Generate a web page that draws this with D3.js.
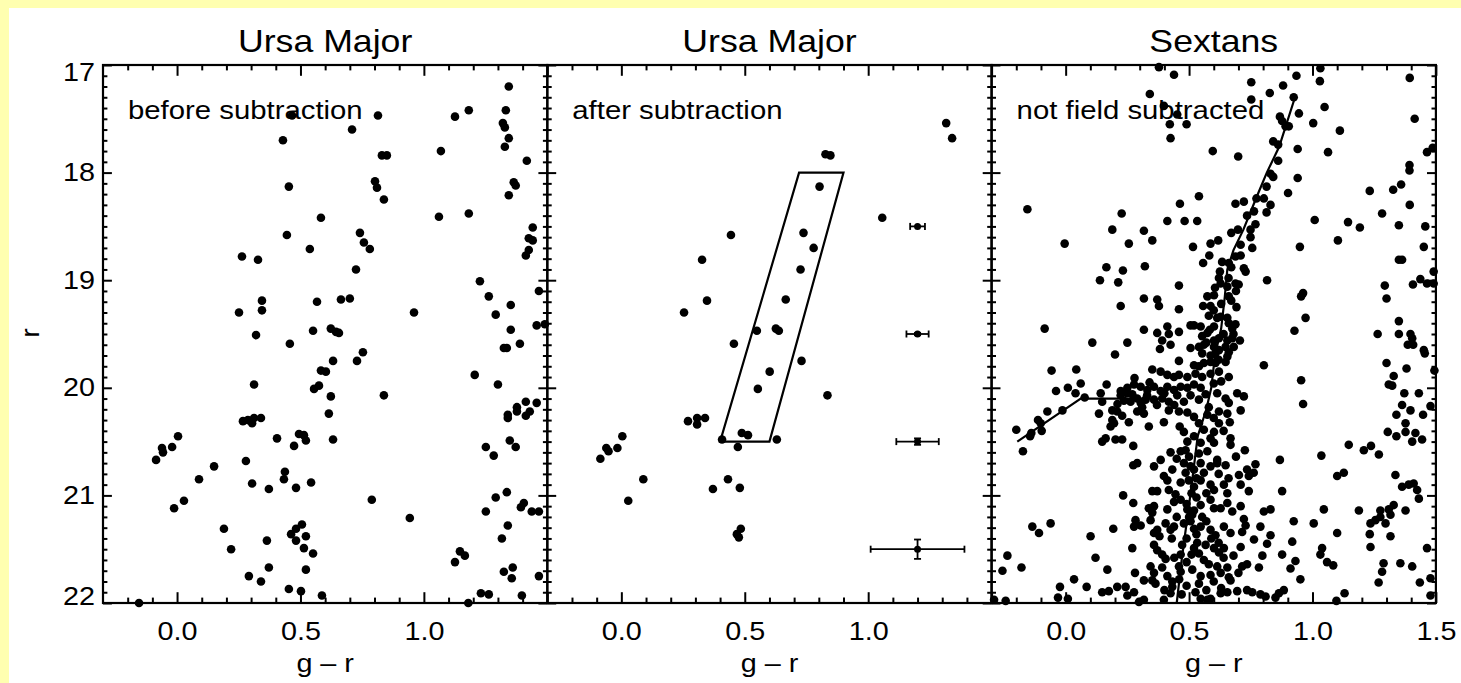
<!DOCTYPE html>
<html><head><meta charset="utf-8">
<script src="https://cdn.jsdelivr.net/npm/d3@7"></script>
<style>html,body{margin:0;padding:0;background:#ffffb0;}svg{display:block;}</style>
</head><body>
<svg id="c" width="1461" height="683"></svg>
<script>
// ---------------- data ----------------
const panelTitles = ["Ursa Major", "Ursa Major", "Sextans"];
const panelNotes = ["before subtraction", "after subtraction", "not field subtracted"];
const colourRange = [-0.3, 1.5];
const magRange = [17, 22];
const xMajorTicks = [0.0, 0.5, 1.0, 1.5];
const xMinorTicks = [-0.2, -0.1, 0.1, 0.2, 0.3, 0.4, 0.6, 0.7, 0.8, 0.9, 1.1, 1.2, 1.3, 1.4];
const xTickLabels = [[0.0, 0.5, 1.0], [0.0, 0.5, 1.0], [0.0, 0.5, 1.0, 1.5]];
const yMajorTicks = [17, 18, 19, 20, 21, 22];
const xAxisTitle = "g \u2013 r";
const yAxisTitle = "r";

const beforeStars = [
[1.344,17.20],[0.466,17.47],[0.814,17.47],[1.126,17.48],[1.182,17.42],[1.332,17.42],[1.320,17.54],[1.328,17.58],
[0.709,17.60],[0.429,17.70],[1.344,17.68],[1.328,17.76],[1.069,17.80],[0.830,17.84],[0.850,17.84],[1.417,17.89],
[0.453,18.13],[0.810,18.14],[0.802,18.08],[1.364,18.09],[1.372,18.12],[1.344,18.21],[0.838,18.25],[0.583,18.42],
[1.061,18.41],[1.182,18.38],[1.441,18.51],[1.425,18.61],[1.441,18.63],[1.425,18.72],[1.413,18.77],[0.445,18.58],
[0.741,18.56],[0.757,18.65],[0.781,18.71],[0.538,18.71],[0.263,18.78],[0.328,18.81],[0.725,18.90],[1.227,19.01],
[1.466,19.10],[1.263,19.15],[1.352,19.23],[0.344,19.19],[0.344,19.28],[0.567,19.20],[0.664,19.18],[0.700,19.17],
[0.251,19.30],[0.960,19.30],[1.291,19.32],[1.457,19.42],[1.490,19.41],[0.551,19.47],[0.623,19.45],[0.644,19.48],
[0.656,19.49],[1.352,19.46],[0.320,19.51],[0.457,19.59],[1.324,19.63],[1.336,19.63],[1.389,19.59],[0.753,19.67],
[0.729,19.75],[0.632,19.75],[0.583,19.84],[0.603,19.85],[1.206,19.88],[0.312,19.97],[0.555,20.01],[0.575,19.98],
[0.623,20.08],[0.838,20.07],[1.300,19.97],[1.413,20.13],[1.457,20.14],[1.377,20.18],[1.377,20.22],[1.340,20.25],
[1.340,20.28],[1.429,20.22],[1.413,20.26],[0.615,20.24],[0.267,20.31],[0.287,20.30],[0.304,20.33],[0.312,20.28],
[0.340,20.28],[0.004,20.45],[0.405,20.47],[0.494,20.43],[0.514,20.44],[0.522,20.49],[0.632,20.48],[1.348,20.49],
[-0.061,20.56],[-0.020,20.55],[0.474,20.54],[1.251,20.55],[1.372,20.55],[-0.085,20.67],[-0.057,20.60],[0.150,20.73],
[0.089,20.85],[0.279,20.68],[0.304,20.89],[0.372,20.94],[0.437,20.78],[0.433,20.85],[0.482,20.93],[0.543,20.88],
[1.283,20.63],[-0.012,21.12],[0.028,21.05],[0.789,21.04],[1.291,21.02],[1.336,20.97],[1.251,21.15],[1.393,21.11],
[1.405,21.07],[1.437,21.15],[1.466,21.15],[0.943,21.21],[0.190,21.31],[0.219,21.50],[0.364,21.42],[0.506,21.27],
[0.482,21.31],[0.462,21.36],[0.482,21.42],[0.522,21.38],[0.514,21.49],[0.551,21.54],[1.340,21.28],[1.316,21.40],
[1.146,21.52],[1.166,21.56],[1.126,21.62],[0.372,21.67],[0.522,21.69],[0.291,21.75],[0.340,21.80],[1.324,21.71],
[1.360,21.67],[1.356,21.77],[1.466,21.75],[0.453,21.87],[0.502,21.89],[0.587,21.93],[1.231,21.91],[1.263,21.92],
[1.397,21.93],[-0.154,22.0],[1.18,22.0]
];

const afterStars = [
[1.316,17.54],[1.340,17.68],[0.827,17.83],[0.847,17.84],[0.803,18.13],[1.057,18.42],[0.444,18.58],[0.738,18.56],
[0.779,18.70],[0.327,18.81],[0.726,18.90],[0.666,19.18],[0.347,19.19],[0.254,19.30],[0.549,19.47],[0.626,19.45],
[0.638,19.47],[0.456,19.59],[0.730,19.75],[0.601,19.85],[0.553,20.01],[0.835,20.07],[0.270,20.31],[0.307,20.34],
[0.307,20.28],[0.339,20.28],[0.004,20.45],[-0.061,20.56],[-0.052,20.59],[-0.016,20.56],[-0.085,20.66],[0.408,20.48],
[0.488,20.42],[0.513,20.44],[0.630,20.48],[0.472,20.55],[0.089,20.85],[0.028,21.05],[0.432,20.85],[0.371,20.94],
[0.480,20.93],[0.484,21.31],[0.468,21.36],[0.476,21.39]
];

// member-selection box (g-r, r)
const selectionBox = [[0.40,20.5],[0.60,20.5],[0.90,18.0],[0.72,18.0]];
// photometric error bars
const errorMags = [18.5, 19.5, 20.5, 21.5];
const errorColour = 1.2;
const errorColourSigma = [0.03, 0.045, 0.086, 0.19];
const errorMagSigma = [0.0, 0.01, 0.03, 0.09];

const sextansStars = [
[0.378,17.02],[0.439,17.09],[1.032,17.03],[0.935,17.10],[1.394,17.12],[0.752,17.16],[0.881,17.19],[1.030,17.15],
[0.827,17.26],[0.341,17.27],[0.752,17.32],[0.924,17.30],[1.049,17.39],[0.398,17.38],[0.452,17.46],[0.422,17.55],
[0.490,17.55],[0.868,17.48],[0.877,17.52],[0.891,17.57],[0.904,17.57],[0.945,17.45],[1.003,17.54],[1.414,17.50],
[0.425,17.68],[1.111,17.61],[0.841,17.71],[0.861,17.74],[0.940,17.78],[0.596,17.80],[0.699,17.85],[1.063,17.81],
[1.464,17.81],[1.487,17.77],[0.861,17.89],[1.393,17.93],[1.393,17.98],[0.830,18.01],[0.841,18.04],[0.940,18.05],
[0.814,18.13],[0.901,18.19],[1.232,18.17],[1.327,18.16],[1.359,18.11],[-0.155,18.34],[0.463,18.29],[0.540,18.22],
[0.688,18.29],[0.722,18.27],[0.773,18.24],[0.803,18.24],[0.814,18.37],[0.830,18.30],[1.394,18.30],[0.227,18.38],
[1.282,18.38],[0.735,18.40],[0.763,18.36],[0.412,18.45],[0.482,18.45],[0.533,18.45],[1.009,18.44],[1.144,18.46],
[1.192,18.51],[1.350,18.49],[1.457,18.50],[0.189,18.53],[0.317,18.54],[0.671,18.56],[0.698,18.53],[0.749,18.53],
[0.769,18.48],[0.749,18.60],[-0.004,18.66],[0.256,18.66],[0.351,18.63],[0.516,18.69],[0.587,18.66],[0.618,18.63],
[0.709,18.67],[0.756,18.70],[0.949,18.69],[1.103,18.63],[1.451,18.69],
[0.709,18.77],[0.688,18.78],[0.582,18.77],[0.557,18.84],[0.321,18.87],[0.165,18.88],[0.232,18.91],[0.634,18.83],
[0.661,18.84],[0.671,18.88],[0.722,18.89],[0.729,18.92],[0.625,18.92],[0.621,18.98],[0.628,19.03],[0.139,19.00],
[0.213,19.02],[0.816,19.00],[1.293,19.05],[1.407,19.04],[1.437,18.99],[1.464,19.03],[1.491,19.03],[1.491,18.92],
[1.350,18.81],[1.363,18.81],[0.459,19.05],[0.688,19.03],[0.701,19.04],[0.655,19.06],[0.605,19.07],[0.962,19.12],
[0.954,19.15],[0.574,19.15],[0.601,19.14],[0.661,19.15],[0.671,19.19],[0.317,19.17],[0.371,19.18],[0.378,19.24],
[1.300,19.17],[0.557,19.24],[0.587,19.24],[0.223,19.24],[0.459,19.27],[0.692,19.25],[0.580,19.33],[0.614,19.35],
[0.628,19.34],[0.972,19.35],[0.655,19.35],[0.661,19.40],[0.688,19.41],[0.675,19.45],[1.350,19.38],[0.506,19.42],
[0.520,19.42],[0.547,19.43],[0.584,19.46],[0.601,19.43],[-0.085,19.45],[0.317,19.46],[0.412,19.43],[0.418,19.50],
[0.371,19.49],[0.459,19.48],[0.927,19.47],[1.264,19.50],[1.350,19.50],[1.397,19.50],[1.404,19.54],[1.386,19.60],
[1.408,19.60],[0.553,19.52],[0.574,19.49],[0.601,19.56],[0.621,19.54],[0.655,19.56],[0.675,19.54],[0.706,19.56],
[0.391,19.56],[0.108,19.58],[0.250,19.58],[0.425,19.60],[0.506,19.63],[0.540,19.62],[0.560,19.60],[0.601,19.62],
[0.621,19.65],[0.648,19.62],[0.661,19.67],[0.681,19.62],[0.382,19.64],[0.200,19.69],[0.553,19.68],[0.587,19.70],
[0.607,19.68],[1.451,19.65],[1.455,19.68],[0.655,19.71],[0.648,19.76],[0.459,19.75],[0.520,19.79],[0.540,19.80],
[0.560,19.77],[0.587,19.76],[0.607,19.77],[0.803,19.79],[1.300,19.77],[1.381,19.82],[1.494,19.84],[-0.057,19.84],
[0.043,19.83],[0.351,19.83],[0.385,19.85],[0.412,19.88],[0.439,19.90],[0.459,19.88],[0.493,19.90],[0.526,19.87],
[0.553,19.90],[0.587,19.87],[0.621,19.85],[0.661,19.90],[0.279,19.91],[1.329,19.89],[0.954,19.93],[0.009,20.00],
[0.061,19.96],[0.040,20.05],[-0.039,20.03],[0.166,19.97],[0.223,20.03],[0.250,20.00],[0.277,19.97],[0.304,19.99],
[0.331,20.02],[0.358,19.99],[0.385,20.03],[0.412,19.99],[0.439,20.02],[0.466,19.99],[0.493,20.00],[0.520,19.97],
[0.547,20.00],[1.309,19.97],[1.323,19.98],[1.372,20.05],[1.431,20.05],[1.478,20.17],[0.077,20.09],[0.142,20.05],
[0.148,20.13],[0.223,20.07],[0.236,20.12],[0.250,20.05],[0.263,20.13],[0.290,20.10],[0.304,20.14],[0.324,20.11],
[0.358,20.11],[0.391,20.10],[0.418,20.13],[0.452,20.07],[0.479,20.13],[0.506,20.07],[0.540,20.11],[0.567,20.06],
[0.614,20.05],[0.648,20.10],[0.661,20.14],[0.695,20.05],[0.722,20.08],[0.962,20.15],[1.363,20.16],[-0.013,20.21],
[-0.074,20.22],[0.135,20.24],[0.189,20.21],[0.209,20.22],[0.229,20.26],[0.290,20.22],[0.317,20.24],[0.418,20.21],
[0.459,20.22],[0.493,20.23],[0.520,20.27],[0.574,20.25],[0.621,20.22],[0.655,20.24],[0.709,20.21],[1.397,20.21],
[1.448,20.25],[-0.112,20.30],[-0.101,20.33],[0.189,20.30],[0.196,20.33],[0.182,20.36],[0.256,20.32],[0.337,20.36],
[0.398,20.32],[0.462,20.36],[0.479,20.41],[0.540,20.33],[0.560,20.39],[0.621,20.33],[0.601,20.41],[0.665,20.32],
[1.340,20.25],[1.377,20.33],[-0.200,20.39],[-0.144,20.45],[-0.139,20.42],[-0.097,20.40],[0.148,20.50],[0.162,20.47],
[0.202,20.48],[0.229,20.48],[0.274,20.54],[0.493,20.50],[0.520,20.45],[0.547,20.51],[0.587,20.47],[0.601,20.51],
[0.668,20.47],[0.668,20.53],[1.305,20.41],[1.340,20.45],[1.377,20.41],[1.417,20.42],[1.404,20.50],[1.444,20.48],
[1.147,20.53],[1.208,20.58],[1.237,20.54],[1.269,20.62],[1.036,20.63],[-0.173,20.59],[0.425,20.60],[0.466,20.59],
[0.486,20.58],[0.540,20.61],[0.574,20.59],[0.726,20.58],[0.385,20.67],[0.614,20.67],[0.868,20.67],
[0.769,20.71],[0.735,20.76],[0.742,20.82],[0.762,20.79],[0.274,20.72],[0.290,20.70],[0.358,20.73],[0.432,20.76],
[0.479,20.70],[0.486,20.79],[0.506,20.73],[0.547,20.70],[0.560,20.79],[0.587,20.73],[0.614,20.70],[0.648,20.72],
[0.398,20.82],[0.412,20.86],[0.466,20.88],[0.499,20.86],[0.520,20.92],[0.547,20.86],[0.587,20.90],[0.601,20.95],
[0.641,20.90],[0.655,20.98],[0.702,20.81],[0.709,20.90],[0.742,20.96],[1.336,20.81],[1.363,20.92],[1.390,20.90],
[1.410,20.89],[1.424,20.95],[1.431,21.03],[1.100,20.82],[1.127,20.79],[0.877,20.96],[0.351,20.96],[0.371,20.96],
[0.418,20.95],[0.445,20.99],[0.233,21.00],[0.274,21.07],[0.337,21.12],[0.358,21.10],[0.351,21.16],[0.412,21.13],
[0.439,21.06],[0.466,21.04],[0.493,21.13],[0.513,21.18],[0.547,21.09],[0.553,21.20],[0.587,21.04],[0.601,21.12],
[0.628,21.12],[0.655,21.07],[0.675,21.15],[0.709,21.10],[0.803,21.15],[0.830,21.13],[1.046,21.13],[1.188,21.14],
[1.275,21.14],[1.309,21.13],[1.329,21.09],[1.377,21.14],[-0.135,21.29],[-0.108,21.35],[-0.061,21.26],[0.101,21.38],
[0.193,21.31],[0.283,21.23],[0.277,21.29],[0.304,21.28],[0.344,21.23],[0.358,21.35],[0.371,21.32],[0.405,21.26],
[0.425,21.32],[0.439,21.29],[0.479,21.26],[0.506,21.24],[0.520,21.31],[0.547,21.29],[0.587,21.32],[0.607,21.37],
[0.641,21.29],[0.668,21.35],[0.722,21.22],[0.729,21.28],[0.715,21.34],[0.789,21.29],[0.830,21.37],[0.816,21.45],
[0.924,21.24],[1.005,21.26],[0.918,21.43],[1.100,21.35],[1.235,21.26],[1.255,21.23],[1.275,21.20],[1.296,21.26],
[1.316,21.18],[1.232,21.36],[1.235,21.48],[1.316,21.38],[1.464,21.49],[0.270,21.49],[0.121,21.58],[0.358,21.46],
[0.371,21.51],[0.391,21.55],[0.405,21.59],[0.472,21.46],[0.466,21.55],[0.520,21.49],[0.540,21.54],[0.533,21.44],
[0.567,21.46],[0.601,21.49],[0.621,21.53],[0.641,21.49],[0.709,21.48],[0.763,21.41],[0.797,21.56],[0.877,21.55],
[1.039,21.49],[1.032,21.55],[1.059,21.62],[1.084,21.65],[0.931,21.61],[-0.236,21.56],[-0.256,21.70],[-0.179,21.67],
[0.169,21.69],[0.281,21.72],[0.317,21.79],[0.344,21.66],[0.358,21.72],[0.351,21.79],[0.364,21.82],[0.391,21.67],
[0.412,21.75],[0.432,21.80],[0.459,21.66],[0.466,21.71],[0.513,21.69],[0.547,21.75],[0.540,21.82],[0.587,21.74],
[0.614,21.66],[0.628,21.72],[0.655,21.67],[0.661,21.76],[0.668,21.79],[0.715,21.66],[0.735,21.64],[0.783,21.67],
[0.911,21.68],[0.951,21.78],[1.268,21.81],[1.282,21.71],[1.288,21.63],[1.356,21.63],[1.404,21.66],[1.435,21.81],
[1.478,21.77],[0.034,21.78],[-0.023,21.85],[-0.031,21.95],[0.009,21.96],[0.085,21.85],[0.148,21.90],[0.175,21.89],
[0.209,21.85],[0.243,21.85],[0.250,21.93],[0.277,21.90],[0.317,21.97],[0.297,21.99],[0.398,21.97],[0.425,21.91],
[0.432,21.85],[0.526,21.90],[0.547,21.96],[0.574,21.97],[0.587,21.96],[0.628,21.91],[0.655,21.90],[0.695,21.89],
[0.735,21.88],[0.756,21.90],[0.789,21.92],[0.810,21.94],[0.850,21.95],[0.864,21.91],[0.884,21.88],[1.130,21.91],
[1.097,21.98],[1.478,21.93],[-0.290,21.97],[-0.243,21.98],
// densest main-sequence / giant-branch cores
[0.50,20.64],[0.52,20.76],[0.53,20.84],[0.51,20.98],[0.53,21.02],[0.49,21.08],[0.52,21.14],[0.50,21.20],
[0.53,21.36],[0.49,21.40],[0.51,21.55],[0.49,21.62],[0.46,21.78],[0.49,21.84],[0.47,21.92],[0.56,21.60],
[0.58,21.64],[0.44,21.58],[0.43,21.40],[0.45,21.20],[0.57,21.24],[0.59,21.40],[0.62,21.44],[0.64,21.58],
[0.60,21.80],[0.63,21.86],[0.57,21.88],[0.68,21.56],[0.70,21.72],[0.38,21.38],[0.40,21.88],[0.62,20.80],
[0.66,20.84],[0.69,20.64],[0.45,20.66],[0.57,20.98],
[0.60,19.28],[0.63,19.22],[0.64,19.50],[0.62,19.74],[0.63,19.94],[0.60,19.96],[0.58,20.18],[0.60,20.28],
[0.64,20.40],[0.68,19.50],[0.57,19.58],[0.69,19.10],[0.66,18.98],
[0.27,20.06],[0.33,20.07],[0.31,20.18],[0.37,20.16],[0.40,20.05],[0.44,20.16],[0.34,19.95],[0.21,20.15]
];

// Sextans fiducial ridge lines
const fiducialRGB = [[0.45,22.0],[0.47,21.6],[0.505,21.0],[0.535,20.45],[0.57,20.2],[0.59,20.0],[0.605,19.7],
  [0.63,19.45],[0.645,19.15],[0.655,18.9],[0.68,18.72],[0.72,18.53],[0.775,18.22],[0.815,18.0],[0.865,17.76],[0.925,17.33]];
const fiducialHB = [[-0.196,20.50],[0.061,20.10],[0.358,20.10]];

// ---------------- drawing ----------------
const W = 1461, H = 683;
const FONT = "'Liberation Sans', Arial, Helvetica, sans-serif";
const STRETCH = 1.15;
const svg = d3.select("#c");
svg.append("rect").attr("x", 9).attr("y", 8).attr("width", W - 9).attr("height", H - 8).attr("fill", "#ffffff");

const plotTop = 65, plotBottom = 603, plotLeft = 103, panelW = 444.3;
const xMajLen = 10.8, xMinLen = 5.4, yMajLen = 8.9, yMinLen = 4.4;
const yMinorTicks = d3.range(17.1, 22, 0.1).filter(v => Math.abs(v - Math.round(v)) > 0.01);
const DOT_R = 4.3;

const panelStars = [beforeStars, afterStars, sextansStars];

function styleAxis(a) {
  a.select(".domain").remove();
  a.attr("font-family", FONT).attr("font-size", 25);
  a.selectAll("line").attr("stroke", "#000").attr("stroke-width", 2);
  a.selectAll("text").attr("fill", "#000");
}

panelTitles.forEach((title, i) => {
  const x0 = plotLeft + i * panelW;
  const x = d3.scaleLinear().domain(colourRange).range([x0, x0 + panelW]);
  const y = d3.scaleLinear().domain(magRange).range([plotTop, plotBottom]);
  const g = svg.append("g");
  const labelSet = new Set(xTickLabels[i]);

  // bottom axis
  const bMaj = g.append("g").attr("transform", `translate(0,${plotBottom})`)
    .call(d3.axisBottom(x).tickValues(xMajorTicks).tickSizeInner(-xMajLen).tickSizeOuter(0).tickPadding(19)
      .tickFormat(d => labelSet.has(d) ? d3.format(".1f")(d) : ""));
  styleAxis(bMaj);
  bMaj.selectAll("text").attr("transform", `scale(${STRETCH},1)`);
  const bMin = g.append("g").attr("transform", `translate(0,${plotBottom})`)
    .call(d3.axisBottom(x).tickValues(xMinorTicks).tickSizeInner(-xMinLen).tickSizeOuter(0).tickFormat(""));
  styleAxis(bMin);
  // top axis
  const tMaj = g.append("g").attr("transform", `translate(0,${plotTop})`)
    .call(d3.axisTop(x).tickValues(xMajorTicks).tickSizeInner(-xMajLen).tickSizeOuter(0).tickFormat(""));
  styleAxis(tMaj);
  const tMin = g.append("g").attr("transform", `translate(0,${plotTop})`)
    .call(d3.axisTop(x).tickValues(xMinorTicks).tickSizeInner(-xMinLen).tickSizeOuter(0).tickFormat(""));
  styleAxis(tMin);
  // left axis
  const lMaj = g.append("g").attr("transform", `translate(${x0},0)`)
    .call(d3.axisLeft(y).tickValues(yMajorTicks).tickSizeInner(-yMajLen).tickSizeOuter(0).tickPadding(8)
      .tickFormat(d => i === 0 ? String(d) : ""));
  styleAxis(lMaj);
  lMaj.selectAll("text").attr("x", 0).attr("transform", d => {
    const nudge = d === magRange[0] ? 7 : (d === magRange[1] ? -7 : 0);
    return `translate(-8,${nudge}) scale(${STRETCH},1)`;
  });
  const lMin = g.append("g").attr("transform", `translate(${x0},0)`)
    .call(d3.axisLeft(y).tickValues(yMinorTicks).tickSizeInner(-yMinLen).tickSizeOuter(0).tickFormat(""));
  styleAxis(lMin);
  // right axis
  const rMaj = g.append("g").attr("transform", `translate(${x0 + panelW},0)`)
    .call(d3.axisRight(y).tickValues(yMajorTicks).tickSizeInner(-yMajLen).tickSizeOuter(0).tickFormat(""));
  styleAxis(rMaj);
  const rMin = g.append("g").attr("transform", `translate(${x0 + panelW},0)`)
    .call(d3.axisRight(y).tickValues(yMinorTicks).tickSizeInner(-yMinLen).tickSizeOuter(0).tickFormat(""));
  styleAxis(rMin);

  // frame
  g.append("rect").attr("x", x0).attr("y", plotTop).attr("width", panelW).attr("height", plotBottom - plotTop)
    .attr("fill", "none").attr("stroke", "#000").attr("stroke-width", 2.2);

  // title
  g.append("text").attr("transform", `translate(${x0 + panelW / 2},52) scale(${STRETCH},1)`)
    .attr("text-anchor", "middle").attr("font-family", FONT).attr("font-size", 31).text(title);
  // note
  g.append("text").attr("transform", `translate(${x0 + 25},119) scale(${STRETCH},1)`)
    .attr("font-family", FONT).attr("font-size", 25.5).text(panelNotes[i]);
  // x axis title
  g.append("text").attr("transform", `translate(${x0 + panelW / 2},672) scale(${STRETCH},1)`)
    .attr("text-anchor", "middle").attr("font-family", FONT).attr("font-size", 25).text(xAxisTitle);

  const line = d3.line().x(d => x(d[0])).y(d => y(d[1]));
  if (i === 1) {
    g.append("path").attr("d", line(selectionBox) + "Z").attr("fill", "none").attr("stroke", "#000").attr("stroke-width", 2.2);
    errorMags.forEach((m, k) => {
      const cx = x(errorColour), cy = y(m);
      const xl = x(errorColour - errorColourSigma[k]), xr = x(errorColour + errorColourSigma[k]);
      const eb = g.append("g").attr("stroke", "#000").attr("stroke-width", 1.8);
      eb.append("line").attr("x1", xl).attr("x2", xr).attr("y1", cy).attr("y2", cy);
      eb.append("line").attr("x1", xl).attr("x2", xl).attr("y1", cy - 3.5).attr("y2", cy + 3.5);
      eb.append("line").attr("x1", xr).attr("x2", xr).attr("y1", cy - 3.5).attr("y2", cy + 3.5);
      if (errorMagSigma[k] > 0) {
        const yt = y(m - errorMagSigma[k]), yb = y(m + errorMagSigma[k]);
        eb.append("line").attr("x1", cx).attr("x2", cx).attr("y1", yt).attr("y2", yb);
        eb.append("line").attr("x1", cx - 3.5).attr("x2", cx + 3.5).attr("y1", yt).attr("y2", yt);
        eb.append("line").attr("x1", cx - 3.5).attr("x2", cx + 3.5).attr("y1", yb).attr("y2", yb);
      }
      g.append("circle").attr("cx", cx).attr("cy", cy).attr("r", 3.5).attr("fill", "#000");
    });
  }
  if (i === 2) {
    g.append("path").attr("d", line(fiducialRGB)).attr("fill", "none").attr("stroke", "#000").attr("stroke-width", 2.2);
    g.append("path").attr("d", line(fiducialHB)).attr("fill", "none").attr("stroke", "#000").attr("stroke-width", 2.2);
  }

  g.append("g").selectAll("circle").data(panelStars[i]).join("circle")
    .attr("cx", d => x(d[0])).attr("cy", d => y(d[1])).attr("r", DOT_R).attr("fill", "#000");
});

// y axis title
svg.append("text").attr("transform", `translate(39,333) rotate(-90) scale(${STRETCH},1)`)
  .attr("text-anchor", "middle").attr("font-family", FONT).attr("font-size", 25).text(yAxisTitle);
</script>
</body></html>
